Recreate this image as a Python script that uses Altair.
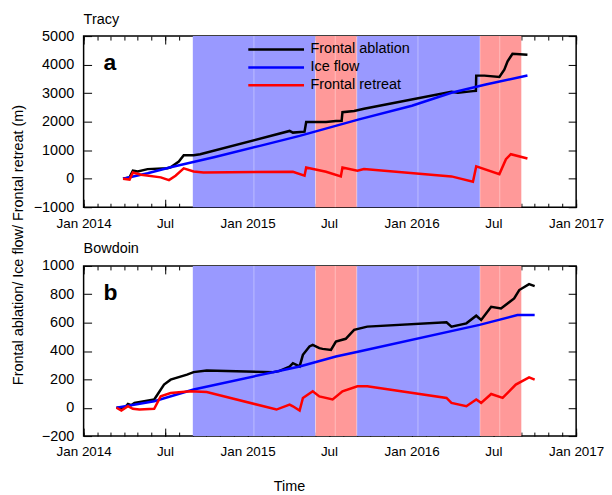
import altair as alt
import pandas as pd

FONT = "Liberation Sans"
FS = 14.5
XFS = 13.5

# ---- data: time in years since 1 Jan 2014, values in metres ----
tracy_abl_t = [0.24, 0.28, 0.30, 0.33, 0.39, 0.51, 0.53, 0.58, 0.61, 0.67, 0.71, 1.255, 1.275, 1.346, 1.356,
               1.477, 1.537, 1.572, 1.577, 1.648, 1.708, 2.241, 2.28, 2.372, 2.39, 2.392, 2.442, 2.533, 2.563,
               2.583, 2.613, 2.704]
tracy_abl_v = [0, 46, 280, 250, 336, 370, 400, 600, 825, 825, 860, 1675, 1616, 1650, 1990,
               1990, 2020, 2030, 2330, 2373, 2453, 3046, 3011, 3070, 3080, 3614, 3614, 3570, 3824,
               4117, 4382, 4347]
tracy_flow_t = [0.24, 0.39, 0.53, 0.80, 1.074, 1.316, 1.678, 2.0, 2.241, 2.45, 2.704]
tracy_flow_v = [0, 190, 400, 760, 1152, 1501, 2080, 2560, 3011, 3300, 3620]
tracy_ret_t = [0.24, 0.28, 0.30, 0.35, 0.47, 0.52, 0.56, 0.61, 0.67, 0.73, 1.275, 1.346, 1.356, 1.477,
               1.567, 1.577, 1.668, 1.708, 2.241, 2.372, 2.392, 2.533, 2.573, 2.603, 2.704]
tracy_ret_v = [0, -30, 220, 140, 46, -48, 105, 360, 256, 221, 245, 105, 395, 245,
               81, 395, 280, 336, 81, -103, 430, 161, 685, 859, 709]

bowd_abl_t = [0.20, 0.25, 0.27, 0.29, 0.31, 0.43, 0.49, 0.53, 0.63, 0.67, 0.75, 1.155, 1.19, 1.255, 1.275,
              1.316, 1.336, 1.376, 1.396, 1.436, 1.456, 1.507, 1.537, 1.597, 1.648, 1.728, 2.211, 2.241,
              2.332, 2.392, 2.422, 2.483, 2.543, 2.623, 2.654, 2.714, 2.748]
bowd_abl_v = [0, 0, 27, 18, 34, 58, 163, 198, 233, 251, 263, 251, 258, 290, 314,
              291, 373, 432, 443, 420, 415, 408, 467, 486, 549, 572, 602, 572,
              595, 649, 619, 712, 700, 771, 830, 872, 858]
bowd_flow_t = [0.20, 0.43, 0.67, 1.175, 1.316, 1.537, 1.678, 2.412, 2.643, 2.748]
bowd_flow_v = [0, 46, 128, 256, 291, 361, 397, 584, 654, 654]
bowd_ret_t = [0.20, 0.23, 0.27, 0.30, 0.34, 0.43, 0.47, 0.53, 0.65, 0.75, 1.175, 1.255, 1.275, 1.316,
              1.336, 1.396, 1.436, 1.517, 1.577, 1.668, 1.728, 2.211, 2.241, 2.332, 2.392, 2.422, 2.483,
              2.553, 2.633, 2.714, 2.748]
bowd_ret_v = [0, -20, 11, -8, -13, -8, 81, 104, 116, 111, -13, 22, 10, -20,
              69, 116, 80, 58, 116, 151, 151, 69, 34, 11, 58, 34, 97,
              69, 163, 214, 198]

series_names = ["Frontal ablation", "Ice flow", "Frontal retreat"]
series_colors = ["black", "blue", "red"]

shade_start = ["2014-09-01", "2015-06-01", "2015-09-01", "2016-06-01"]
shade_end = ["2015-06-01", "2015-09-01", "2016-06-01", "2016-09-01"]
shade_kind = ["blue", "red", "blue", "red"]
shade_colors = {"blue": "#9999ff", "red": "#ff9999"}
seam_dates = ["2015-01-15", "2015-06-01", "2015-07-15", "2015-09-01", "2016-01-15", "2016-06-01", "2016-07-15"]

Y_TITLE = "Frontal ablation/ Ice flow/ Frontal retreat (m)"
X_TITLE = "Time"

W = 495


def to_dates(ts):
    base = pd.Timestamp("2014-01-01")
    return [base + pd.Timedelta(days=t * 365.25) for t in ts]


def series_df(name, ts, vs):
    return pd.DataFrame({"date": to_dates(ts), "value": vs, "series": name})


shade_df = pd.DataFrame({"start": pd.to_datetime(shade_start), "end": pd.to_datetime(shade_end),
                         "kind": shade_kind})
seam_df = pd.DataFrame({"date": pd.to_datetime(seam_dates)})

major_vals = [alt.DateTime(year=y, month=m, date=1) for y in (2014, 2015, 2016) for m in (1, 7)] + \
             [alt.DateTime(year=2017, month=1, date=1)]
minor_vals = [alt.DateTime(year=y, month=m, date=1) for y in (2014, 2015, 2016) for m in range(1, 13)] + \
             [alt.DateTime(year=2017, month=1, date=1)]

xscale = alt.Scale(domain=[alt.DateTime(year=2014, month=1, date=1), alt.DateTime(year=2017, month=1, date=1)],
                   nice=False)
cscale = alt.Scale(domain=series_names, range=series_colors)

common = dict(domain=False, grid=False, tickColor="black", tickWidth=1, labelFont=FONT, labelFontSize=FS,
              labelColor="black", minExtent=0)

LABEL_EXPR = "month(datum.value) == 0 ? timeFormat(datum.value, '%b %Y') : timeFormat(datum.value, '%b')"


def label_layer(text, x, y, angle=0, align="left", baseline="alphabetic", size=FS, weight="normal"):
    df = pd.DataFrame({"t": [text]})
    return alt.Chart(df).mark_text(font=FONT, fontSize=size, fontWeight=weight, align=align,
                                   baseline=baseline, angle=angle, color="black").encode(
        x=alt.value(x), y=alt.value(y), text="t:N")


def panel(series, title, ydom, ystep, letter, letter_t, letter_v, height, legend, extra_labels):
    yscale = alt.Scale(domain=ydom, nice=False, zero=False)
    yvals = list(range(ydom[0], ydom[1] + 1, ystep))

    xb = dict(common)
    xb["labelFontSize"] = XFS
    ax_xb_major = alt.Axis(orient="bottom", values=major_vals, offset=-8, tickSize=8, labelExpr=LABEL_EXPR,
                           labelPadding=9, labelFlush=False, labelOverlap=False, **xb)
    ax_xt_major = alt.Axis(orient="top", values=major_vals, offset=-8, tickSize=8, labels=False, **common)
    ax_xb_minor = alt.Axis(orient="bottom", values=minor_vals, offset=-4, tickSize=4, labels=False, **common)
    ax_xt_minor = alt.Axis(orient="top", values=minor_vals, offset=-4, tickSize=4, labels=False, **common)
    ax_yl = alt.Axis(orient="left", values=yvals, offset=-8, tickSize=8, labelPadding=10, format="d", **common)
    ax_yr = alt.Axis(orient="right", values=yvals, offset=-8, tickSize=8, labels=False, **common)

    rects = alt.Chart(shade_df).mark_rect().encode(
        x=alt.X("start:T", scale=xscale, axis=None),
        x2="end:T",
        fill=alt.Fill("kind:N", scale=alt.Scale(domain=list(shade_colors.keys()),
                                                range=list(shade_colors.values())), legend=None),
    )
    seams = alt.Chart(seam_df).mark_rule(color="white", strokeWidth=1, opacity=0.35).encode(
        x=alt.X("date:T", scale=xscale, axis=None),
    )

    if legend:
        leg = alt.Legend(orient="none", legendX=185, legendY=5, title=None, symbolType="M-4,0H4",
                         symbolSize=196, symbolStrokeWidth=2.5, labelFont=FONT, labelFontSize=FS,
                         labelColor="black", labelOffset=26, rowPadding=3, padding=0)
    else:
        leg = None

    x_axes = [ax_xb_major, ax_xt_major, ax_xb_minor]
    y_axes = [ax_yl, ax_yr, None]
    line_layers = []
    for i, df in enumerate(series):
        if i == 0:
            col = alt.Color("series:N", scale=cscale, sort=series_names, legend=leg)
        else:
            col = alt.Color("series:N", scale=cscale, sort=series_names)
        line_layers.append(alt.Chart(df).mark_line(strokeWidth=2.5).encode(
            x=alt.X("date:T", scale=xscale, axis=x_axes[i], title=None),
            y=alt.Y("value:Q", scale=yscale, axis=y_axes[i], title=None),
            color=col,
        ))

    lab_df = pd.DataFrame({"date": to_dates([letter_t]), "value": [letter_v], "text": [letter]})
    text = alt.Chart(lab_df).mark_text(font=FONT, fontSize=23, fontWeight="bold", align="left",
                                       baseline="alphabetic", color="black").encode(
        x=alt.X("date:T", scale=xscale, axis=ax_xt_minor, title=None),
        y=alt.Y("value:Q", scale=yscale, axis=None),
        text="text:N",
    )
    title_layer = label_layer(title, 0, -12.6)
    return alt.layer(rects, seams, *line_layers, text, title_layer, *extra_labels).resolve_axis(
        x="independent", y="independent").properties(width=W, height=height)


pa = panel([series_df("Frontal ablation", tracy_abl_t, tracy_abl_v),
            series_df("Ice flow", tracy_flow_t, tracy_flow_v),
            series_df("Frontal retreat", tracy_ret_t, tracy_ret_v)],
           "Tracy", [-1000, 5000], 1000, "a", 0.121, 3813, 172, True,
           [label_layer(Y_TITLE, -64.5, 210, angle=270, align="center", baseline="middle")])
pb = panel([series_df("Frontal ablation", bowd_abl_t, bowd_abl_v),
            series_df("Ice flow", bowd_flow_t, bowd_flow_v),
            series_df("Frontal retreat", bowd_ret_t, bowd_ret_v)],
           "Bowdoin", [-200, 1000], 200, "b", 0.121, 761, 171, False,
           [label_layer(X_TITLE, 207, 222, align="center", baseline="middle")])

chart = alt.vconcat(pa, pb, spacing=59, bounds="flush").resolve_scale(color="independent").properties(
    padding={"left": 2, "top": 1, "right": -1, "bottom": 0}
).configure_view(stroke="black", strokeWidth=1.5)

chart.save("out.html", embed_options={"renderer": "svg", "actions": False})
